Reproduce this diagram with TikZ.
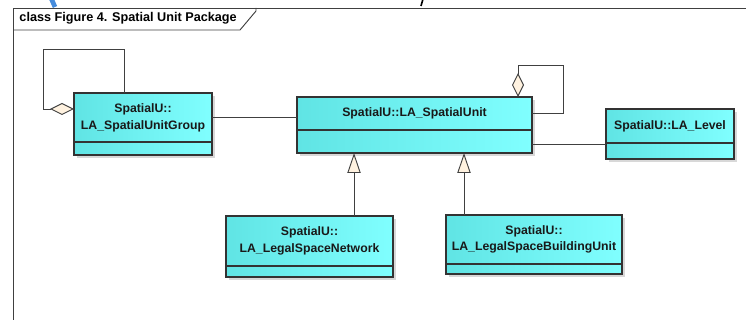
\documentclass[tikz,border=0pt]{standalone}
\usepackage{fontspec}
\setmainfont{Liberation Sans}
\usetikzlibrary{arrows.meta,positioning,shadows}
\definecolor{clsleft}{RGB}{96,228,228}
\definecolor{clsright}{RGB}{128,255,255}
\definecolor{tipfill}{RGB}{255,242,224}
\tikzstyle{cls}=[rectangle,draw=black!80,line width=0.8pt,left color=clsleft,right color=clsright,inner sep=1pt,outer sep=0pt,align=center,text=black!90,font=\fontsize{9.2}{12.5}\selectfont\bfseries,drop shadow={shadow xshift=2pt,shadow yshift=-2pt,fill=black!30,opacity=0.5}]
\tikzstyle{att}=[cls]
\tikzstyle{aggr}=[-{Diamond[length=18pt,width=9pt,fill=tipfill]}]
\tikzstyle{gen}=[-{Triangle[length=15pt,width=10pt,fill=tipfill]}]

\begin{document}
\begin{tikzpicture}[x=0.75pt,y=-0.75pt,line width=0.7pt,draw=black!75]
\useasboundingbox (0,0) rectangle (746,320);

% frame
\draw (13,330) -- (13,8) -- (760,8);
\draw (13,30) -- (240,30) -- (256,11) -- (256,8);
\node (title) at (19,18.5) [anchor=west,inner sep=0pt,font=\fontsize{9.5}{11}\selectfont\bfseries] {class Figure 4. Spatial Unit Package};
\draw[line width=3.5pt,draw={rgb,255:red,70;green,140;blue,220}] (51,-2) -- (55,7);
\draw[line width=1.2pt,draw=black] (423,-1) -- (421,6);

% classes
\node (grp) at (143,117.5) [cls,minimum width=103.5pt,minimum height=36.75pt] {SpatialU::\\LA\_SpatialUnitGroup};
\node (grp att) [att,below=0pt of grp,minimum width=103.5pt,minimum height=9.75pt] {};

\node (su) at (414.5,113.5) [cls,minimum width=176.25pt,minimum height=24.75pt] {SpatialU::LA\_SpatialUnit};
\node (su att) [att,below=0pt of su,minimum width=176.25pt,minimum height=17.25pt] {};

\node (lvl) at (670,126) [cls,minimum width=96pt,minimum height=25.5pt] {SpatialU::LA\_Level};
\node (lvl att) [att,below=0pt of lvl,minimum width=96pt,minimum height=12pt] {};

\node (net) at (309.5,241) [cls,minimum width=125.25pt,minimum height=37.5pt] {SpatialU::\\LA\_LegalSpaceNetwork};
\node (net att) [att,below=0pt of net,minimum width=125.25pt,minimum height=8.25pt] {};

\node (bu) at (534,239.5) [cls,minimum width=132pt,minimum height=36.75pt] {SpatialU::\\LA\_LegalSpaceBuildingUnit};
\node (bu att) [att,below=0pt of bu,minimum width=132pt,minimum height=7.5pt] {};

% associations
\draw (grp.east) -- (grp.east -| su.west);
\draw ([yshift=-2pt]su att.east) -- ([yshift=-2pt]su att.east -| lvl att.west);

% aggregation loops
\coordinate (grp loop a) at (43,49);
\coordinate (grp loop b) at (124,49);
\draw[aggr] (grp loop b |- grp.north) -- (grp loop b) -- (grp loop a) |- ([yshift=-12pt]grp.north west);
\coordinate (su loop) at (563,65);
\draw[aggr] (su.east) -| (su loop) -| ([xshift=-10.5pt]su.north east);

% generalizations
\path ([xshift=33.4pt]net.north) coordinate (net top);
\draw[gen] (net top) -- (net top |- su att.south);
\path ([xshift=13.5pt]bu.north west) coordinate (bu top);
\draw[gen] (bu top) -- (bu top |- su att.south);
\end{tikzpicture}
\end{document}
